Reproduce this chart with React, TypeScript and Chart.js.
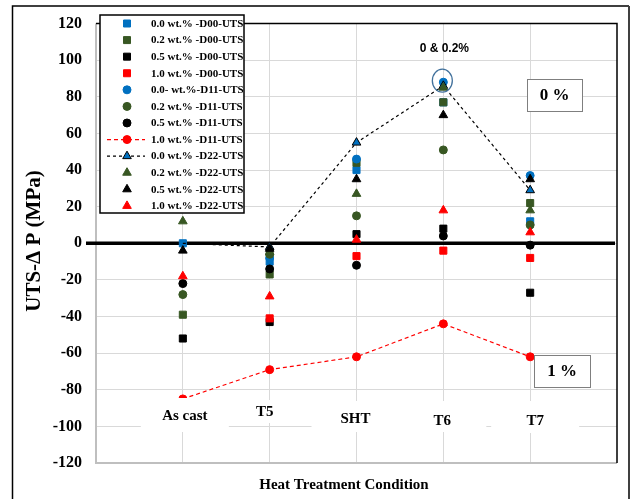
import React, { useEffect, useRef } from 'react';
import { Chart, registerables } from 'chart.js';

Chart.register(...registerables);

// ---------- data ----------
const CATEGORIES = ['As cast', 'T5', 'SHT', 'T6', 'T7'];
const CAT_X = [1, 2, 3, 4, 5];

const D00_00 = [0, -10, 40, 77, 12];
const D00_02 = [-39, -17, 44, 77, 22];
const D00_05 = [-52, -43, 5, 8, -27];
const D00_10 = [null, -41, -7, -4, -8];
const D11_00 = [null, -8, 46, 88, 37];
const D11_02 = [-28, -6, 15, 51, 10];
const D11_05 = [-22, -14, -12, 4, -1];
const D11_10 = [-85, -69, -62, -44, -62];
const D22_00 = [0, -2, 55, 86, 29];
const D22_02 = [12, -5, 27, 85, 18];
const D22_05 = [-4, -3, 35, 70, 35];
const D22_10 = [-18, -29, 2, 18, 6];

const SERIES_LABELS = [
  '0.0 wt.% -D00-UTS',
  '0.2 wt.% -D00-UTS',
  '0.5 wt.% -D00-UTS',
  '1.0 wt.% -D00-UTS',
  '0.0- wt.%-D11-UTS',
  '0.2 wt.% -D11-UTS',
  '0.5 wt.% -D11-UTS',
  '1.0 wt.% -D11-UTS',
  '0.0 wt.% -D22-UTS',
  '0.2 wt.% -D22-UTS',
  '0.5 wt.% -D22-UTS',
  '1.0 wt.% -D22-UTS',
];
const SERIES_VALUES = [D00_00, D00_02, D00_05, D00_10, D11_00, D11_02, D11_05, D11_10, D22_00, D22_02, D22_05, D22_10];

const Y_MIN = -120;
const Y_MAX = 120;
const Y_STEP = 20;

const ANNOT_TOP = '0 & 0.2%';
const ANNOT_0 = '0 %';
const ANNOT_1 = '1 %';
const Y_TITLE = 'UTS-Δ P (MPa)';
const X_TITLE = 'Heat Treatment Condition';

// ---------- styles ----------
const BLUE = '#0070C0';
const GREEN = '#385723';
const BLACK = '#000000';
const RED = '#FF0000';
const COLORS = [BLUE, GREEN, BLACK, RED, BLUE, GREEN, BLACK, RED, BLUE, GREEN, BLACK, RED];
const SHAPES = ['rect', 'rect', 'rect', 'rect', 'circle', 'circle', 'circle', 'circle', 'triangle', 'triangle', 'triangle', 'triangle'];
const RADII: Record<string, number> = { rect: 5, circle: 4, triangle: 5 };
const SERIF = '"Liberation Serif", "Times New Roman", serif';
const SANS = '"Liberation Sans", Arial, sans-serif';

function drawMarker(ctx: CanvasRenderingContext2D, shape: string, x: number, y: number, fill: string, stroke: string) {
  ctx.save();
  ctx.fillStyle = fill;
  ctx.strokeStyle = stroke;
  ctx.lineWidth = 1;
  ctx.beginPath();
  if (shape === 'rect') {
    ctx.rect(x - 3.5, y - 3.5, 7, 7);
  } else if (shape === 'circle') {
    ctx.arc(x, y, 4, 0, Math.PI * 2);
  } else {
    ctx.moveTo(x, y - 5);
    ctx.lineTo(x + 4.3, y + 2.5);
    ctx.lineTo(x - 4.3, y + 2.5);
    ctx.closePath();
  }
  ctx.fill();
  ctx.stroke();
  ctx.restore();
}

const LABEL_LAYOUT = [
  { dx: 2, y: 416, top: 398, bottom: 432 },
  { dx: -5, y: 412, top: 400, bottom: 423 },
  { dx: -1, y: 419, top: 401, bottom: 432 },
  { dx: -1, y: 421, top: 401, bottom: 432 },
  { dx: 5, y: 421, top: 401, bottom: 433 },
];

const decorPlugin = {
  id: 'decor',
  beforeDatasetsDraw(chart: any) {
    const { ctx, chartArea: a, scales } = chart;
    const y0 = scales.y.getPixelForValue(0);
    ctx.save();
    ctx.strokeStyle = '#bfbfbf';
    ctx.lineWidth = 2;
    ctx.beginPath();
    ctx.moveTo(a.left, a.top);
    ctx.lineTo(a.left, a.bottom);
    ctx.lineTo(a.right, a.bottom);
    ctx.stroke();
    ctx.strokeStyle = '#000';
    ctx.lineWidth = 1.5;
    ctx.beginPath();
    ctx.moveTo(a.left, a.top);
    ctx.lineTo(a.right, a.top);
    ctx.lineTo(a.right, a.bottom);
    ctx.stroke();
    ctx.lineWidth = 3.5;
    ctx.beginPath();
    ctx.moveTo(a.left - 10, y0);
    ctx.lineTo(a.right - 2, y0);
    ctx.stroke();
    ctx.restore();
  },
  afterDatasetsDraw(chart: any) {
    const { ctx, scales } = chart;
    const xs = scales.x;
    const ys = scales.y;
    ctx.save();

    // category labels with white boxes
    ctx.font = `bold 15px ${SERIF}`;
    ctx.textAlign = 'center';
    ctx.textBaseline = 'middle';
    CATEGORIES.forEach((c, i) => {
      const L = LABEL_LAYOUT[i];
      const cx = xs.getPixelForValue(CAT_X[i]) + L.dx;
      ctx.fillStyle = '#fff';
      ctx.fillRect(cx - 44, L.top, 88, L.bottom - L.top);
      ctx.fillStyle = '#000';
      ctx.fillText(c, cx, L.y);
    });

    // legend
    const lx = 100, ly = 15, lw = 144, lh = 198;
    ctx.fillStyle = '#fff';
    ctx.fillRect(lx, ly, lw, lh);
    ctx.strokeStyle = '#000';
    ctx.lineWidth = 1.5;
    ctx.strokeRect(lx, ly, lw, lh);
    ctx.font = `bold 11px ${SERIF}`;
    ctx.textAlign = 'left';
    ctx.textBaseline = 'middle';
    SERIES_LABELS.forEach((lab, i) => {
      const yy = 23.5 + i * 16.58;
      if (i === 7 || i === 8) {
        ctx.save();
        ctx.strokeStyle = i === 7 ? RED : BLACK;
        ctx.lineWidth = 1.2;
        ctx.setLineDash(i === 7 ? [4, 3] : [3, 3]);
        ctx.beginPath();
        ctx.moveTo(107, yy);
        ctx.lineTo(145, yy);
        ctx.stroke();
        ctx.restore();
      }
      drawMarker(ctx, SHAPES[i], 127, yy, COLORS[i], i === 8 ? BLACK : COLORS[i]);
      ctx.fillStyle = '#000';
      ctx.fillText(lab, 151, yy + 0.5);
    });

    // T6 annotation
    const px = xs.getPixelForValue(4);
    const py = ys.getPixelForValue(88);
    ctx.strokeStyle = '#41719C';
    ctx.lineWidth = 1.3;
    ctx.beginPath();
    ctx.ellipse(px - 1, py - 1.5, 10, 11.5, 0, 0, Math.PI * 2);
    ctx.stroke();
    ctx.fillStyle = '#000';
    ctx.font = `bold 12px ${SANS}`;
    ctx.textAlign = 'center';
    ctx.fillText(ANNOT_TOP, px + 1, 49);

    // percent boxes
    const box = (x: number, y: number, w: number, h: number, t: string) => {
      ctx.fillStyle = '#fff';
      ctx.fillRect(x, y, w, h);
      ctx.strokeStyle = '#7f7f7f';
      ctx.lineWidth = 1;
      ctx.strokeRect(x + 0.5, y + 0.5, w, h);
      ctx.fillStyle = '#000';
      ctx.font = `bold 17px ${SERIF}`;
      ctx.textAlign = 'center';
      ctx.textBaseline = 'middle';
      ctx.fillText(t, x + w / 2, y + h / 2 + 1);
    };
    box(527, 79, 55, 32, ANNOT_0);
    box(534, 355, 56, 32, ANNOT_1);

    // axis titles
    ctx.fillStyle = '#000';
    ctx.font = `bold 15px ${SERIF}`;
    ctx.textAlign = 'center';
    ctx.textBaseline = 'middle';
    ctx.fillText(X_TITLE, 344, 485);
    ctx.save();
    ctx.translate(35, 241);
    ctx.rotate(-Math.PI / 2);
    ctx.font = `bold 21px ${SERIF}`;
    ctx.fillText(Y_TITLE, 0, 0);
    ctx.restore();

    // outer frame
    ctx.strokeStyle = '#000';
    ctx.lineWidth = 1.5;
    ctx.beginPath();
    ctx.moveTo(12.5, 499);
    ctx.lineTo(12.5, 6);
    ctx.lineTo(629, 6);
    ctx.stroke();
    ctx.strokeStyle = '#404040';
    ctx.lineWidth = 2;
    ctx.beginPath();
    ctx.moveTo(629, 6);
    ctx.lineTo(629, 499);
    ctx.stroke();
    ctx.restore();
  },
};

export default function App() {
  const ref = useRef<HTMLCanvasElement | null>(null);
  useEffect(() => {
    document.body.style.margin = '0';
    const canvas = ref.current;
    if (!canvas) return;
    const datasets = SERIES_VALUES.map((vals, i) => {
      const shape = SHAPES[i];
      const isLine = i === 7 || i === 8;
      return {
        label: SERIES_LABELS[i],
        data: CAT_X.map((x, j) => ({ x, y: vals[j] })),
        pointStyle: shape,
        pointRadius: i === 8 ? (c: any) => (c.dataIndex === 0 ? 0 : RADII[shape]) : RADII[shape],
        pointBackgroundColor: COLORS[i],
        pointBorderColor: i === 8 ? BLACK : COLORS[i],
        pointBorderWidth: 1,
        showLine: isLine,
        borderColor: i === 7 ? RED : BLACK,
        borderWidth: 1.2,
        borderDash: i === 7 ? [4, 3] : [3, 3],
        backgroundColor: COLORS[i],
        order: 12 - i,
        spanGaps: true,
      };
    });
    const chart = new Chart(canvas, {
      type: 'scatter',
      data: { datasets: datasets as any },
      options: {
        responsive: false,
        animation: false,
        devicePixelRatio: 1,
        layout: { padding: { top: 19, right: 16, bottom: 36, left: 0 } },
        plugins: { legend: { display: false }, tooltip: { enabled: false } },
        scales: {
          x: {
            type: 'linear',
            min: 0,
            max: 6,
            afterBuildTicks: (s: any) => {
              s.ticks = CAT_X.map((v) => ({ value: v }));
            },
            ticks: { display: false },
            grid: { color: '#d9d9d9', drawTicks: false },
            border: { display: false },
            afterFit: (s: any) => {
              s.height = 0;
            },
          },
          y: {
            min: Y_MIN,
            max: Y_MAX,
            ticks: {
              stepSize: Y_STEP,
              color: '#000',
              padding: 14,
              font: { family: SERIF, weight: 'bold', size: 16 },
            },
            grid: { color: '#d9d9d9', drawTicks: false },
            border: { display: false },
            afterFit: (s: any) => {
              s.width = 96;
            },
          },
        },
      } as any,
      plugins: [decorPlugin],
    });
    return () => chart.destroy();
  }, []);
  return <canvas ref={ref} width={633} height={499} style={{ display: 'block' }} />;
}
